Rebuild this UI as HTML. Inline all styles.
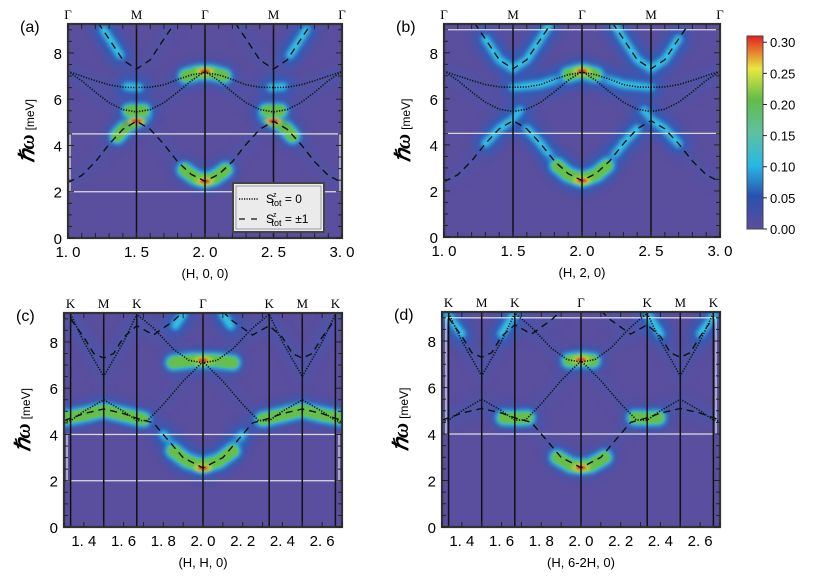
<!DOCTYPE html>
<html><head><meta charset="utf-8"><style>
html,body{margin:0;padding:0;background:#fff;}
svg{display:block;font-family:"Liberation Sans","Noto Sans CJK JP",sans-serif;}
</style></head><body>
<svg id="fig" width="817" height="583" viewBox="0 0 817 583" xmlns="http://www.w3.org/2000/svg">
<defs>
<filter id="b5" filterUnits="userSpaceOnUse" x="0" y="0" width="817" height="583"><feGaussianBlur stdDeviation="5"/></filter>
<filter id="b2" filterUnits="userSpaceOnUse" x="0" y="0" width="817" height="583"><feGaussianBlur stdDeviation="2"/></filter>
<filter id="b1" filterUnits="userSpaceOnUse" x="0" y="0" width="817" height="583"><feGaussianBlur stdDeviation="1"/></filter>
<linearGradient id="cbar" x1="0" y1="1" x2="0" y2="0">
<stop offset="0" stop-color="#5a4e9e"/><stop offset="0.17" stop-color="#2a50b0"/>
<stop offset="0.33" stop-color="#28b8e4"/><stop offset="0.5" stop-color="#5ec0a0"/>
<stop offset="0.67" stop-color="#62bc48"/><stop offset="0.83" stop-color="#e8e840"/>
<stop offset="1" stop-color="#e42020"/></linearGradient>
</defs>
</svg>
<script>
// ---------- data ----------
const yTicks=[0,2,4,6,8];
const xTicksAB=[1.0,1.5,2.0,2.5,3.0];
const xTickLabelsAB=["1. 0","1. 5","2. 0","2. 5","3. 0"];
const xTicksCD=[1.4,1.6,1.8,2.0,2.2,2.4,2.6];
const xTickLabelsCD=["1. 4","1. 6","1. 8","2. 0","2. 2","2. 4","2. 6"];
const symAB=[1,1.5,2,2.5,3];
const symLabAB=["Γ","M","Γ","M","Γ"];
const symCD=[1.3333,1.5,1.6667,2,2.3333,2.5,2.6667];
const symLabCD=["K","M","K","Γ","K","M","K"];
const cbarTicks=[0,0.05,0.10,0.15,0.20,0.25,0.30];
const cbarLabels=["0.00","0.05","0.10","0.15","0.20","0.25","0.30"];

const dotUpperAB=[[1,7.2],[1.1,7.0],[1.2,6.8],[1.3,6.62],[1.4,6.52],[1.5,6.5],[1.6,6.52],[1.7,6.62],[1.8,6.85],[1.9,7.05],[2,7.15],[2.1,7.05],[2.2,6.85],[2.3,6.62],[2.4,6.52],[2.5,6.5],[2.6,6.52],[2.7,6.62],[2.8,6.8],[2.9,7.0],[3,7.2]];
const dotLowerAB=[[1,7.2],[1.1,6.8],[1.2,6.3],[1.3,5.85],[1.4,5.55],[1.5,5.45],[1.6,5.55],[1.7,5.85],[1.8,6.3],[1.9,6.8],[2,7.2],[2.1,6.8],[2.2,6.3],[2.3,5.85],[2.4,5.55],[2.5,5.45],[2.6,5.55],[2.7,5.85],[2.8,6.3],[2.9,6.8],[3,7.2]];
const dashLowAB=[[1,2.4],[1.1,2.7],[1.2,3.3],[1.3,4.05],[1.4,4.7],[1.5,5.05],[1.6,4.7],[1.7,4.05],[1.8,3.3],[1.9,2.75],[2,2.45],[2.1,2.75],[2.2,3.3],[2.3,4.05],[2.4,4.7],[2.5,5.05],[2.6,4.7],[2.7,4.05],[2.8,3.3],[2.9,2.7],[3,2.4]];
const dashUpAB1=[[1.22,9.3],[1.3,8.6],[1.4,7.7],[1.5,7.3],[1.6,7.7],[1.7,8.6],[1.78,9.3]];
const dashUpAB2=[[2.22,9.3],[2.3,8.6],[2.4,7.7],[2.5,7.3],[2.6,7.7],[2.7,8.6],[2.78,9.3]];

const dashLowCD=[[1.3,4.6],[1.3333,4.7],[1.4,4.9],[1.5,5.1],[1.6,4.9],[1.6667,4.7],[1.75,4.5],[1.8,4.0],[1.9,3.0],[2,2.55],[2.1,3.0],[2.2,4.0],[2.25,4.5],[2.3333,4.7],[2.4,4.9],[2.5,5.1],[2.6,4.9],[2.6667,4.7],[2.7,4.6]];
const dotLowCD=[[1.3,4.55],[1.3333,4.6],[1.4,5.0],[1.5,5.5],[1.6,5.0],[1.6667,4.6],[1.72,4.6],[1.8,5.3],[1.9,6.3],[2,7.15],[2.1,6.3],[2.2,5.3],[2.28,4.6],[2.3333,4.6],[2.4,5.0],[2.5,5.5],[2.6,5.0],[2.6667,4.6],[2.7,4.55]];
const dotUpCD=[[1.3333,9.2],[1.4,8.0],[1.5,6.5],[1.6,8.0],[1.6667,9.2],[1.75,8.6],[1.85,7.7],[1.93,7.2],[2,7.1],[2.07,7.2],[2.15,7.7],[2.25,8.6],[2.3333,9.2],[2.4,8.0],[2.5,6.5],[2.6,8.0],[2.6667,9.2]];
const dashUpCD1=[[1.3333,9.0],[1.4,8.2],[1.45,7.5],[1.5,7.3],[1.55,7.5],[1.6,8.2],[1.6667,8.7],[1.75,8.3],[1.85,8.9],[1.9,9.3]];
const dashUpCD2=[[2.1,9.3],[2.15,8.9],[2.25,8.3],[2.3333,8.7],[2.4,8.2],[2.45,7.5],[2.5,7.3],[2.55,7.5],[2.6,8.2],[2.6667,9.0]];

// glows: [points, level]; hot spots [H,E]
const glowA=[[[[1.36,4.4],[1.42,4.8],[1.5,5.1],[1.55,5.3]],2],[[[1.45,5.5],[1.55,5.5]],2],[[[2.64,4.4],[2.58,4.8],[2.5,5.1],[2.45,5.3]],2],[[[2.45,5.5],[2.55,5.5]],2],
 [[[1.86,7.0],[1.95,7.15],[2.05,7.15],[2.14,7.0]],2],[[[1.85,2.95],[1.93,2.6],[2,2.5],[2.07,2.6],[2.15,2.95]],2],
 [[[1.43,6.55],[1.52,6.5]],1],[[[2.48,6.5],[2.57,6.55]],1],[[[1.26,9.0],[1.38,7.9]],1],[[[2.62,7.9],[2.74,9.0]],1]];
const hotA=[[1.5,5.05],[2,7.2],[2,2.45],[2.5,5.05]];
const glowB=[[[[1.5,6.5],[1.7,6.62],[1.85,6.9],[2,7.15],[2.15,6.9],[2.3,6.62],[2.5,6.5]],1],[[[1.9,7.05],[2,7.2],[2.1,7.05]],2],
 [[[1.3,4.05],[1.4,4.7],[1.5,5.1],[1.55,5.5]],1],[[[2.45,5.5],[2.5,5.1],[2.6,4.7],[2.7,4.05]],1],
 [[[1.6,4.7],[1.7,4.05],[1.8,3.3],[1.9,2.75],[2,2.45],[2.1,2.75],[2.2,3.3],[2.3,4.05],[2.4,4.7]],1],[[[1.82,3.1],[1.9,2.7],[2,2.5],[2.1,2.7],[2.18,3.1]],2],
 [[[1.3,8.6],[1.4,7.7],[1.5,7.3],[1.6,7.7],[1.7,8.6],[1.76,9.2]],1],[[[2.24,9.2],[2.3,8.6],[2.4,7.7],[2.5,7.3],[2.6,7.7],[2.7,8.6]],1]];
const hotB=[[2,7.2],[2,2.45]];
const glowC=[[[[1.3,4.7],[1.4,4.85],[1.5,5.05],[1.6,4.85],[1.7,4.65]],2],[[[2.3,4.65],[2.4,4.85],[2.5,5.05],[2.6,4.85],[2.7,4.7]],2],
 [[[1.85,7.1],[1.95,7.2],[2.05,7.2],[2.15,7.1]],2],[[[1.8,4.0],[1.9,3.0],[2,2.6],[2.1,3.0],[2.2,4.0]],1],[[[1.85,3.3],[1.92,2.85],[2,2.65],[2.08,2.85],[2.15,3.3]],2],
 [[[1.86,8.7],[1.9,9.2]],1],[[[2.1,9.2],[2.14,8.7]],1]];
const hotC=[[2,7.2],[2,2.55]];
const glowD=[[[[1.61,4.7],[1.67,4.68],[1.73,4.7]],2],[[[2.27,4.7],[2.33,4.68],[2.39,4.7]],2],[[[1.94,7.15],[2,7.2],[2.06,7.15]],2],
 [[[1.88,3.0],[1.95,2.65],[2,2.6],[2.05,2.65],[2.12,3.0]],2],[[[1.33,9.1],[1.4,8.3]],1],[[[1.6,8.3],[1.66,9.1]],1],[[[2.34,9.1],[2.4,8.3]],1],[[[2.6,8.3],[2.67,9.1]],1]];
const hotD=[[2,7.2],[2,2.55]];

// ---------- layout ----------
const panels=[
 {id:"a",L:68,R:342,T:24,B:238,x0:1,x1:3,xt:xTicksAB,xl:xTickLabelsAB,sym:symAB,sl:symLabAB,title:"(H, 0, 0)",
  dots:[dotUpperAB,dotLowerAB],dashes:[dashLowAB,dashUpAB1,dashUpAB2],glow:glowA,hot:hotA,box:"rectA"},
 {id:"b",L:444,R:720,T:24,B:237,x0:1,x1:3,xt:xTicksAB,xl:xTickLabelsAB,sym:symAB,sl:symLabAB,title:"(H, 2, 0)",
  dots:[dotUpperAB,dotLowerAB],dashes:[dashLowAB,dashUpAB1,dashUpAB2],glow:glowB,hot:hotB,box:"linesB"},
 {id:"c",L:64,R:342,T:313,B:527,x0:1.3,x1:2.7,xt:xTicksCD,xl:xTickLabelsCD,sym:symCD,sl:symLabCD,title:"(H, H, 0)",
  dots:[dotLowCD,dotUpCD],dashes:[dashLowCD,dashUpCD1,dashUpCD2],glow:glowC,hot:hotC,box:"rectC"},
 {id:"d",L:442,R:720,T:312,B:527,x0:1.3,x1:2.7,xt:xTicksCD,xl:xTickLabelsCD,sym:symCD,sl:symLabCD,title:"(H, 6-2H, 0)",
  dots:[dotLowCD,dotUpCD],dashes:[dashLowCD,dashUpCD1,dashUpCD2],glow:glowD,hot:hotD,box:"rectD"}
];
const YMAX=9.25;
const NS="http://www.w3.org/2000/svg";
const svg=document.getElementById("fig");
function mk(tag,attrs,parent,text){const e=document.createElementNS(NS,tag);for(const k in attrs)e.setAttribute(k,attrs[k]);if(text!==undefined)e.textContent=text;(parent||svg).appendChild(e);return e;}

panels.forEach(p=>{
 const sx=v=>p.L+(v-p.x0)/(p.x1-p.x0)*(p.R-p.L);
 const sy=v=>p.B-v/YMAX*(p.B-p.T);
 const pts=a=>a.map(q=>sx(q[0]).toFixed(1)+","+sy(q[1]).toFixed(1)).join(" ");
 const g=mk("g",{});
 
 
 const cp=mk("clipPath",{id:"clip"+p.id},g);
 mk("rect",{x:p.L,y:p.T,width:p.R-p.L,height:p.B-p.T},cp);
 const plot=mk("g",{"clip-path":"url(#clip"+p.id+")"},g);
 
 
 mk("rect",{x:p.L,y:p.T,width:p.R-p.L,height:p.B-p.T,fill:"#5a4e9e"},plot);
 [...p.dots,...p.dashes].forEach(c=>mk("polyline",{points:pts(c),fill:"none",stroke:"#4a58ac",'stroke-width':12,filter:"url(#b5)",opacity:0.5},plot));
 p.glow.forEach(gl=>{const P=pts(gl[0]);
  mk("polyline",{points:P,fill:"none",stroke:"#2f5cb8",'stroke-width':22,'stroke-linecap':"round",filter:"url(#b5)"},plot);
  mk("polyline",{points:P,fill:"none",stroke:"#33c3e6",'stroke-width':gl[1]>1?16:8,'stroke-linecap':"round",filter:"url(#b2)"},plot);
  if(gl[1]>1)mk("polyline",{points:P,fill:"none",stroke:"#66bf4a",'stroke-width':11,'stroke-linecap':"round",filter:"url(#b1)"},plot);
 });
 p.hot.forEach(h=>{
  const e=mk("ellipse",{cx:sx(h[0]),cy:sy(h[1]),rx:9,ry:3.5,fill:"#d8d840",filter:"url(#b2)"},plot);
  
  
  mk("ellipse",{cx:sx(h[0]),cy:sy(h[1]),rx:5,ry:1.8,fill:"#e03020",filter:"url(#b1)"},plot);
 });
 const wl={stroke:"#d8d8d8",'stroke-width':1.3,fill:"none"};
 if(p.box==="rectA")mk("rect",Object.assign({x:p.L+2,y:sy(4.5),width:p.R-p.L-4,height:sy(2)-sy(4.5)},wl),plot);
 if(p.box==="linesB"){mk("line",Object.assign({x1:p.L,x2:p.R,y1:sy(4.5),y2:sy(4.5)},wl),plot);mk("line",Object.assign({x1:p.L,x2:p.R,y1:sy(9),y2:sy(9)},wl),plot);}
 if(p.box==="rectC")mk("rect",Object.assign({x:p.L+3,y:sy(4),width:p.R-p.L-6,height:sy(2)-sy(4)},wl),plot);
 if(p.box==="rectD")mk("rect",Object.assign({x:p.L+4,y:sy(9),width:p.R-p.L-8,height:sy(4)-sy(9)},wl),plot);
 p.sym.forEach((s,i)=>{
  const l=mk("line",{x1:sx(s),x2:sx(s),y1:p.T,y2:p.B,stroke:"#111",'stroke-width':1.5},plot);
  
  
  const t=mk("text",{x:sx(s),y:p.T-5,'text-anchor':"middle",'font-size':13,'font-family':"Liberation Serif, serif"},g,p.sl[i]);
  
  
 });
 p.dots.forEach(c=>{const l=mk("polyline",{points:pts(c),fill:"none",stroke:"#111",'stroke-width':1.6,'stroke-dasharray':"1.2 1.5"},plot);
  });
 p.dashes.forEach(c=>{const l=mk("polyline",{points:pts(c),fill:"none",stroke:"#111",'stroke-width':1.4,'stroke-dasharray':"7 5"},plot);
  });
 const fr=mk("rect",{x:p.L,y:p.T,width:p.R-p.L,height:p.B-p.T,fill:"none",stroke:"#333",'stroke-width':2.2},g);
 
 for(let k=Math.ceil(p.x0*10);k<=Math.floor(p.x1*10);k++){const X=sx(k/10);
  mk("line",{x1:X,x2:X,y1:p.B,y2:p.B-5,stroke:"#222",'stroke-width':1},g);
  mk("line",{x1:X,x2:X,y1:p.T,y2:p.T+5,stroke:"#222",'stroke-width':1},g);}
 for(let k=0;k<=18;k++){const Y=sy(k/2);const len=k%4===0?6:4;
  mk("line",{x1:p.L,x2:p.L+len,y1:Y,y2:Y,stroke:"#222",'stroke-width':1},g);
  mk("line",{x1:p.R,x2:p.R-len,y1:Y,y2:Y,stroke:"#222",'stroke-width':1},g);}
 p.xt.forEach((v,i)=>{const t=mk("text",{x:sx(v),y:p.B+19,'text-anchor':"middle",'font-size':15},g,p.xl[i]);
  });
 yTicks.forEach(v=>{const t=mk("text",{x:p.L-6,y:sy(v)+6,'text-anchor':"end",'font-size':15},g,String(v));
  });
 const xt=mk("text",{x:(p.L+p.R)/2,y:p.B+40,'text-anchor':"middle",'font-size':13},g,p.title);
 
 const yc=(p.T+p.B)/2, yx=p.L-34;
 const yt=mk("text",{x:yx,y:yc,transform:"rotate(-90 "+yx+" "+yc+")",'text-anchor':"middle",'font-size':12},g);
 
 mk("tspan",{'font-size':21,'font-weight':"bold",'font-style':"italic",'font-family':"Liberation Serif, serif"},yt,"ℏω");
 mk("tspan",{dx:4},yt,"[meV]");
 const pl=mk("text",{x:p.L-48,y:p.T+8,'font-size':16},g,"("+p.id+")");
 
});

const lg=mk("g",{});


mk("rect",{x:233,y:183,width:91,height:49,fill:"#ebebeb",stroke:"#444",'stroke-width':2},lg);
mk("rect",{x:236,y:186,width:85,height:43,fill:"none",stroke:"#888",'stroke-width':0.8},lg);
mk("line",{x1:239,x2:259,y1:199,y2:199,stroke:"#111",'stroke-width':1.5,'stroke-dasharray':"1.2 1.3"},lg);
mk("line",{x1:239,x2:258,y1:219,y2:219,stroke:"#111",'stroke-width':1.3,'stroke-dasharray':"6 6"},lg);
const l1=mk("text",{x:266,y:203,'font-size':12},lg);

mk("tspan",{},l1,"S");mk("tspan",{'font-size':7,dy:-6,dx:-1},l1,"z");mk("tspan",{'font-size':9,dy:9,dx:-5},l1,"tot");mk("tspan",{dy:-3},l1," = 0");
const l2=mk("text",{x:266,y:223,'font-size':12},lg);

mk("tspan",{},l2,"S");mk("tspan",{'font-size':7,dy:-6,dx:-1},l2,"z");mk("tspan",{'font-size':9,dy:9,dx:-5},l2,"tot");mk("tspan",{dy:-3},l2," = ±1");

const cb=mk("g",{});


const cT=36,cB=229,cL=747,cW=16,cMax=0.31;
const cy=v=>cB-v/cMax*(cB-cT);
mk("rect",{x:cL,y:cT,width:cW,height:cB-cT,fill:"url(#cbar)",stroke:"#444",'stroke-width':1},cb);
cbarTicks.forEach((v,i)=>{mk("line",{x1:cL+cW,x2:cL+cW+4,y1:cy(v),y2:cy(v),stroke:"#222"},cb);
 const t=mk("text",{x:cL+cW+7,y:cy(v)+5,'font-size':13},cb,cbarLabels[i]);
 });
</script>
</body></html>
